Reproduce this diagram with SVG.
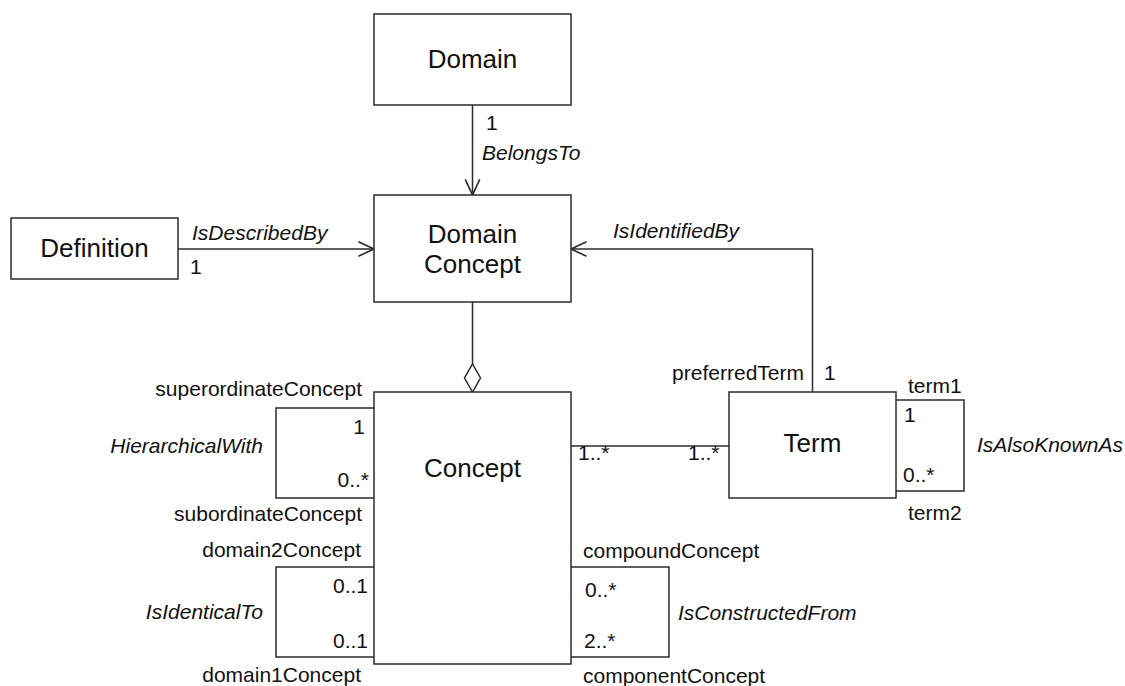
<svg xmlns="http://www.w3.org/2000/svg" width="1125" height="686" viewBox="0 0 1125 686">
  <style>
    .box { fill: #ffffff; stroke: #2b2b2b; stroke-width: 1.5; }
    .edge { fill: none; stroke: #2b2b2b; stroke-width: 1.5; }
    .name { font-family: "Liberation Sans", Arial, sans-serif; font-size: 26px; fill: #111; text-anchor: middle; }
    .lbl { font-family: "Liberation Sans", Arial, sans-serif; font-size: 21px; fill: #111; }
    .role { font-style: italic; }
    .end { text-anchor: end; }
  </style>
  <defs>
    <marker id="open-arrow" markerUnits="userSpaceOnUse" markerWidth="20" markerHeight="20" viewBox="-16 -8 18 16" refX="0" refY="0" orient="auto">
      <path d="M -14 -6.5 L 0 0 L -14 6.5" fill="none" stroke="#2b2b2b" stroke-width="1.5"/>
    </marker>
  </defs>
  <rect width="1125" height="686" fill="#ffffff"/>

  <g id="connectors">
    <!-- Domain -> Domain Concept -->
    <line class="edge" x1="472.5" y1="105" x2="472.5" y2="195" marker-end="url(#open-arrow)"/>
    <!-- Definition -> Domain Concept -->
    <line class="edge" x1="178" y1="249" x2="374" y2="249" marker-end="url(#open-arrow)"/>
    <!-- Term -> Domain Concept -->
    <polyline class="edge" points="812.5,392 812.5,249 571,249" marker-end="url(#open-arrow)"/>
    <!-- aggregation Domain Concept <>- Concept -->
    <line class="edge" x1="472.5" y1="302" x2="472.5" y2="364"/>
    <polygon class="edge" points="472.5,364 480.5,378 472.5,392 464.5,378" style="fill:#ffffff"/>
    <!-- Concept - Term -->
    <line class="edge" x1="571" y1="446" x2="729" y2="446"/>
    <!-- self associations -->
    <polyline class="edge" points="374,408 276,408 276,498 374,498"/>
    <polyline class="edge" points="374,567 276,567 276,657 374,657"/>
    <polyline class="edge" points="571,567 669,567 669,657 571,657"/>
    <polyline class="edge" points="896,400 964,400 964,491 896,491"/>

    <!-- association labels -->
    <text class="lbl" x="486" y="130">1</text>
    <text class="lbl role" x="482" y="160">BelongsTo</text>
    <text class="lbl role" x="192" y="240">IsDescribedBy</text>
    <text class="lbl" x="190" y="274">1</text>
    <text class="lbl role" x="613" y="238">IsIdentifiedBy</text>
    <text class="lbl end" x="804" y="380">preferredTerm</text>
    <text class="lbl" x="824" y="380">1</text>
    <text class="lbl" x="578" y="460">1..*</text>
    <text class="lbl" x="688" y="460">1..*</text>

    <text class="lbl" x="908" y="393">term1</text>
    <text class="lbl" x="904" y="422">1</text>
    <text class="lbl" x="903" y="482">0..*</text>
    <text class="lbl" x="908" y="520">term2</text>
    <text class="lbl role" x="977" y="452">IsAlsoKnownAs</text>

    <text class="lbl end" x="362" y="396">superordinateConcept</text>
    <text class="lbl end" x="365" y="434">1</text>
    <text class="lbl end" x="369" y="487">0..*</text>
    <text class="lbl end" x="362" y="521">subordinateConcept</text>
    <text class="lbl role end" x="263" y="453">HierarchicalWith</text>

    <text class="lbl end" x="361" y="557">domain2Concept</text>
    <text class="lbl end" x="368" y="593">0..1</text>
    <text class="lbl end" x="368" y="648">0..1</text>
    <text class="lbl end" x="361" y="682">domain1Concept</text>
    <text class="lbl role end" x="263" y="619">IsIdenticalTo</text>

    <text class="lbl" x="583" y="558">compoundConcept</text>
    <text class="lbl" x="585" y="597">0..*</text>
    <text class="lbl" x="584" y="648">2..*</text>
    <text class="lbl" x="583" y="683">componentConcept</text>
    <text class="lbl role" x="678" y="620">IsConstructedFrom</text>
  </g>

  <g id="domain">
    <rect class="box" x="374" y="14" width="197" height="91"/>
    <text class="name" x="472.5" y="68">Domain</text>
  </g>
  <g id="domain-concept">
    <rect class="box" x="374" y="195" width="197" height="107"/>
    <text class="name" x="472.5" y="243">Domain</text>
    <text class="name" x="472.5" y="273">Concept</text>
  </g>
  <g id="definition">
    <rect class="box" x="11" y="218" width="167" height="61"/>
    <text class="name" x="94.5" y="257">Definition</text>
  </g>
  <g id="concept">
    <rect class="box" x="374" y="392" width="197" height="272"/>
    <text class="name" x="472.5" y="477">Concept</text>
  </g>
  <g id="term">
    <rect class="box" x="729" y="392" width="167" height="106"/>
    <text class="name" x="812.5" y="452">Term</text>
  </g>
</svg>
